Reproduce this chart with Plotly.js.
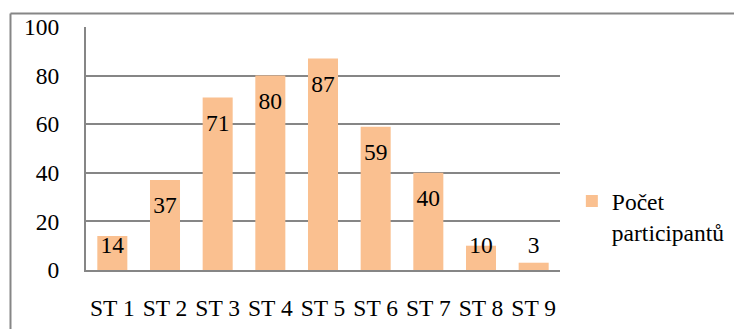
<!DOCTYPE html>
<html>
<head>
<meta charset="utf-8">
<script src="https://cdn.plot.ly/plotly-3.0.1.min.js"></script>
<style>
html,body{margin:0;padding:0;background:#fff;}
#chart{width:734px;height:329px;}
</style>
</head>
<body>
<div id="chart"></div>
<script>
const categories = ["ST 1","ST 2","ST 3","ST 4","ST 5","ST 6","ST 7","ST 8","ST 9"];
const values = [14, 37, 71, 80, 87, 59, 40, 10, 3];
const seriesName = "Počet<br>participantů";
const yTicks = [0, 20, 40, 60, 80, 100];

const font = "Liberation Serif";
const fs = 23.5;

// label placed "inside end" of bar, kept above the axis for short bars
const labelY = values.map(v => Math.max(v - 11.3, 9.5));

const bars = {
  type: "bar",
  x: categories,
  y: values,
  name: seriesName,
  marker: {color: "#FAC090"},
  showlegend: true,
  hoverinfo: "skip"
};

const labels = {
  type: "scatter",
  mode: "text",
  x: categories,
  y: labelY,
  text: values.map(String),
  textposition: "middle center",
  textfont: {family: font, size: fs, color: "#000"},
  showlegend: false,
  cliponaxis: false,
  hoverinfo: "skip"
};

const layout = {
  width: 734, height: 329,
  margin: {l: 86, r: 174, t: 27, b: 59, autoexpand: false},
  paper_bgcolor: "#fff",
  plot_bgcolor: "#fff",
  bargap: 0.43,
  font: {family: font, size: fs, color: "#000"},
  xaxis: {
    type: "category",
    showline: true, linecolor: "#868686", linewidth: 2,
    showgrid: false, zeroline: false,
    ticks: "outside", ticklen: 16, tickcolor: "rgba(0,0,0,0)",
    tickfont: {family: font, size: fs, color: "#000"},
    fixedrange: true
  },
  yaxis: {
    range: [0, 100],
    tickvals: yTicks,
    showline: true, linecolor: "#868686", linewidth: 2,
    showgrid: true, gridcolor: "#868686", gridwidth: 2,
    zeroline: false,
    ticks: "outside", ticklen: 20, tickcolor: "rgba(0,0,0,0)",
    tickfont: {family: font, size: fs, color: "#000"},
    fixedrange: true
  },
  legend: {
    x: 1.025, xanchor: "left",
    y: 0.219, yanchor: "middle",
    valign: "top",
    font: {family: font, size: fs, color: "#000"},
    bgcolor: "rgba(0,0,0,0)"
  },
  shapes: [
    {type: "line", xref: "paper", yref: "paper", x0: -0.1593, x1: 1.4, y0: 1.0556, y1: 1.0556, line: {color: "#868686", width: 2}},
    {type: "line", xref: "paper", yref: "paper", x0: -0.1593, x1: -0.1593, y0: 1.0556, y1: -0.3, line: {color: "#868686", width: 2}}
  ]
};

Plotly.newPlot("chart", [bars, labels], layout, {displayModeBar: false, staticPlot: true});
</script>
</body>
</html>
